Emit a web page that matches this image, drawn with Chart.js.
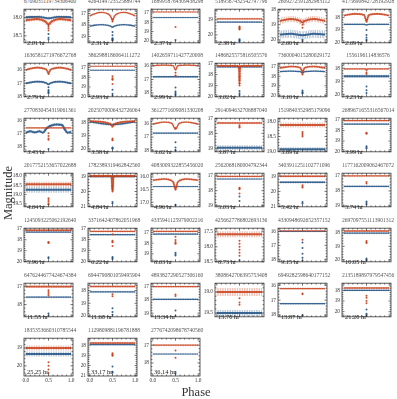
<!DOCTYPE html>
<html>
<head>
<meta charset="utf-8">
<script src="https://cdn.jsdelivr.net/npm/chart.js@4.4.1/dist/chart.umd.min.js"></script>
<style>
body{margin:0;background:#fff;font-family:"Liberation Serif",serif}
#fig{position:relative;width:397px;height:399px;overflow:hidden}
canvas{position:absolute}
.ttl{position:absolute;width:52px;text-align:center;font-size:5.6px;line-height:6px;color:#555;white-space:nowrap;letter-spacing:-0.05px}
.per{position:absolute;font-size:6.4px;line-height:7px;color:#222;white-space:nowrap}
.lab{position:absolute;font-size:12.5px;line-height:14px;color:#333;white-space:nowrap}
</style>
</head>
<body>
<div id="fig"></div>
<script>
// ---- data ----
const gaiaIds=["6709035119734306400","4264149723525889744","1689958764309438298","5189567432542797796","2609272591282983112","4175690842728192928",
"1636581271976672768","3862988186064111272","1402659711427720008","1486825575816505576","7360004015280029172","1556196114836576",
"2770830454319061361","2025070006432726064","3612771609081330208","2914094632706887040","1519840352985179096","2689671655316567014",
"2017752153657022688","1782389319462842560","4083009322855456020","2562068180004792344","3403911251102771096","1177162009062467072",
"1245093225062192640","3371642407862051968","4335941125979002216","4256627786802693136","4330948692652357152","2697097551113901312",
"6476244677424674384","6944790801059495904","4893827290527306160","3808642706395753408","6949282598640177152","2135189897979547456",
"1835353660310785544","1129809881196781888","2776742098678740560"]
const periods=["2.01","2.31","2.37","2.38","2.60","2.69","2.79","2.93","2.99","3.02","3.10","3.23","3.43","3.58","3.62","3.87","3.89","3.99",
"4.64","4.84","4.96","5.03","5.42","5.74","5.96","6.22","8.63","8.73","9.15","10.05","11.55","11.60","13.34","13.70","13.87","21.20",
"25.25","33.17","36.14"]
const magTop=[17.77,16.62,16.6,18.29,17.97,17.35, 15.49,16.54,15.79,16.96,16.62,17.62, 15.84,17.65,15.55,16.98,17.88,16.82,
17.85,18.78,15.85,16.81,18.8,16.82, 16.94,16.95,16.6,17.38,15.76,17.65, 16.81,17.42,16.74,18.79,15.86,17.33, 18.45,17.32,16.61]
const magBottom=[18.69,19.55,20.2,20.53,20.2,20.02, 18.02,20.02,18.29,20.02,20.16,20.2, 18.42,20.23,18.13,19.24,19.02,20.02,
19.67,21.02,17.18,19.1,21.02,19.06, 20.02,20.05,19.75,18.5,18.19,20.15, 18.68,20.07,19.28,19.59,18.12,20.48, 20.57,21.02,18.73]
const magStep=[0.5,1,1,1,1,1, 1,1,1,1,1,1, 1,1,1,1,0.5,1, 0.5,1,0.5,1,1,1, 1,1,1,0.5,1,1, 1,1,1,0.5,1,1, 1,1,1]
const phaseTickLabels=["0.0","0.5","1.0"]

const redCurves=[
[[0,18.07],[0.25,18.04],[0.42,18.1],[0.5,18.18],[0.58,18.1],[0.75,18.04],[1,18.07]],
[[0,17.2],[0.1,17.03],[0.25,16.9],[0.4,17.03],[0.46,17.25],[0.5,17.62],[0.54,17.25],[0.6,17.03],[0.75,16.9],[0.9,17.03],[1,17.2]],
[[0,16.9],[1,16.9]],
[[0,18.93],[1,18.93]],
[[0,18.75],[0.25,18.62],[0.45,18.75],[0.5,18.85],[0.55,18.75],[0.75,18.62],[1,18.75]],
[[0,17.85],[0.25,17.72],[0.45,17.82],[0.5,18.3],[0.55,17.82],[0.75,17.72],[1,17.85]],
[[0,16.0],[0.1,15.9],[0.25,15.82],[0.4,15.9],[0.46,16.0],[0.5,16.25],[0.54,16.0],[0.6,15.9],[0.75,15.82],[0.9,15.9],[1,16.0]],
[[0,16.86],[1,16.86]],
[[0,15.98],[0.25,15.93],[0.45,15.98],[0.5,16.3],[0.55,15.98],[0.75,15.93],[1,15.98]],
[[0,17.2],[0.47,17.2],[0.49,17.5],[0.5,18.9],[0.51,17.5],[0.53,17.2],[1,17.2]],
[[0,17.12],[0.25,16.97],[0.45,17.1],[0.5,17.5],[0.55,17.1],[0.75,16.97],[1,17.12]],
[[0,18.06],[0.48,18.06],[0.5,18.2],[0.52,18.06],[1,18.06]],
[[0,16.59],[1,16.59]],
[[0,17.88],[0.45,18.08],[0.5,18.3],[0.55,18.08],[1,17.88]],
[[0,16.0],[0.25,15.85],[0.42,15.95],[0.5,16.4],[0.58,15.95],[0.75,15.85],[1,16.0]],
[[0,17.3],[1,17.3]],
[[0,18.11],[1,18.11]],
[[0,17.05],[1,17.05]],
[[0,18.45],[1,18.45]],
[[0,18.97],[0.48,18.97],[0.5,19.9],[0.52,18.97],[1,18.97]],
[[0,16.13],[0.25,16.08],[0.45,16.2],[0.5,16.49],[0.55,16.2],[0.75,16.08],[1,16.13]],
[[0,17.03],[1,17.03]],
[[0,19.0],[1,19.0]],
[[0,17.0],[1,17.0]],
[[0,17.13],[1,17.13]],
[[0,17.25],[1,17.25]],
[[0,16.9],[1,16.9]],
[[0,17.58],[1,17.58]],
[[0,15.95],[1,15.95]],
[[0,17.86],[1,17.86]],
[[0,17.0],[1,17.0]],
[[0,17.68],[1,17.68]],
[[0,17.0],[1,17.0]],
[[0,19.0],[1,19.0]],
[[0,16.22],[1,16.22]],
[[0,17.78],[1,17.78]],
[[0,19.0],[1,19.0]],
[[0,17.79],[1,17.79]],
[[0,17.0],[1,17.0]]
]
const blueCurves=[
[[0,17.99],[0.3,17.98],[0.5,18.02],[0.7,17.98],[1,17.99]],
[[0,18.1],[0.1,18.02],[0.25,17.97],[0.4,18.03],[0.47,18.12],[0.5,18.2],[0.53,18.12],[0.6,18.03],[0.75,17.97],[0.9,18.02],[1,18.1]],
[[0,17.5],[1,17.5]],
[[0,19.15],[1,19.15]],
[[0,19.65],[0.25,19.6],[0.5,19.7],[0.75,19.6],[1,19.65]],
[[0,18.55],[0.45,18.55],[0.5,18.6],[0.55,18.55],[1,18.55]],
[[0,17.0],[0.25,16.88],[0.45,16.98],[0.5,17.08],[0.55,16.98],[0.75,16.88],[1,17.0]],
[[0,17.27],[1,17.27]],
[[0,16.8],[1,16.8]],
[[0,17.3],[1,17.3]],
[[0,17.5],[0.25,17.45],[0.45,17.5],[0.5,17.62],[0.55,17.5],[0.75,17.45],[1,17.5]],
[[0,18.63],[1,18.63]],
[[0,16.95],[0.1,16.85],[0.2,16.93],[0.3,16.85],[0.38,16.95],[0.45,16.65],[0.55,16.42],[0.7,16.32],[0.8,16.36],[0.86,16.7],[0.92,16.95],[1,16.9]],
[[0,17.92],[0.45,18.13],[0.55,18.13],[1,17.92]],
[[0,16.7],[1,16.7]],
[[0,18.97],[1,18.97]],
[[0,18.93],[1,18.93]],
[[0,17.38],[1,17.38]],
[[0,18.74],[1,18.74]],
[[0,19.0],[1,19.0]],
[[0,16.38],[1,16.38]],
[[0,17.21],[1,17.21]],
[[0,19.4],[1,19.4]],
[[0,17.7],[1,17.7]],
[[0,17.3],[1,17.3]],
[[0,17.55],[1,17.55]],
[[0,17.15],[1,17.15]],
[],
[[0,16.0],[1,16.0]],
[[0,18.02],[1,18.02]],
[[0,17.59],[1,17.59]],
[[0,18.1],[1,18.1]],
[[0,17.96],[1,17.96]],
[[0,19.5],[1,19.5]],
[[0,17.24],[1,17.24]],
[[0,18.0],[1,18.0]],
[[0,19.33],[1,19.33]],
[[0,17.94],[1,17.94]],
[[0,17.5],[1,17.5]]
]
// magnitudes of the points inside the eclipse, at phase 0.5
const redDips=[[18.25,18.3,18.35],[17.5,17.7],[18.5],[19.45,19.5,19.55,19.6,19.65],[19.0,19.2],[18.2,18.35],
[16.3],[17.9,18.1,18.2,18.25,18.7],[16.5,16.7,16.75],[18.2,18.5,18.8,19.0],[17.7,17.8],[18.35,18.45],
[17.0,17.2,17.4,17.5],[19.2,19.3,19.35],[16.3],[17.45,17.55,17.6],[18.35,18.4,18.45,18.5],[18.2,18.25,18.3],
[19.2,19.3,19.4,19.5,19.55],[19.6,19.7,19.8,19.9,20.0],[16.5],[17.8,17.85,17.9,18.2],[19.6,19.7,19.75],[17.4,17.5],
[18.2,18.25,18.3],[17.5,18.1,18.2,18.25,18.6],[17.4,17.7,17.9,18.0,18.05],[17.8,17.9,18.0,18.1,18.2,18.3],[16.6],[18.6,18.7,18.75],
[17.2,17.3,17.4,17.5],[18.3,18.45],[17.6,17.7],[19.15,19.25,19.3],[16.55,16.6],[18.5,18.7,19.0,19.2],
[19.8,20.0,20.2,20.4],[18.8,18.9,19.0,19.05],[17.3,17.7]]
const blueDips=[[18.2,18.45,18.55,18.6],[18.6,18.9,19.15,19.2,19.25,19.3,19.35],[19.9],[20.3,20.35,20.4,20.45],[20.0,20.1],[19.0,19.4,19.6,19.75,19.85],
[17.3,17.5,17.6,17.7,17.75],[19.3,19.7,19.9],[17.6,17.9,18.0,18.1,18.2],[19.5,19.7,19.85],[19.5,19.65,19.72,19.8],[19.4,19.7,19.9],
[18.2],[19.9,19.95,20.0],[17.4,17.8,18.0,18.05],[],[],[19.5,19.6,19.7],
[],[20.7,20.8],[17.1,17.13],[18.4,18.7],[20.7,20.8],[18.7,18.8,18.9],
[19.6,19.7],[19.6,19.7,19.8],[18.9,19.05,19.15],[18.45],[16.8,17.2,17.6,17.9,18.1],[19.9,20.0,20.05],
[18.5,18.6],[19.4,19.7,19.9],[18.8,19.2],[],[18.0,18.05],[19.8,20.2,20.3,20.4],
[],[20.1,20.6,20.7],[18.5,18.6]]

// ---- styles ----
const redSpread=[4,2,1.5,2,6,2.5, 2.5,1.5,2,2.5,2.5,2, 1.8,2.5,2,2.5,5,2, 5,3,2.5,2,2.5,2, 2.5,2,2,6,1.5,2, 2.5,2,2,8,2,2, 5,2.5,2]
const blueSpread=[3,2,1.5,2,8,2, 2.5,1.5,2,2,2,3, 3,2.5,2,5,4,2, 6,2,1.5,1.5,2.5,2, 2,2,2,2,1.5,2, 2,2,2,6,2,2, 5,2,1.5]
const RED=a=>`rgba(200,62,24,${a})`
const BLUE=a=>`rgba(30,80,130,${a})`
const colLeft=[24,88,151,215,278,342]
const rowTop=[5,59,114,169,224,279,334]
const boxW=52, boxH=42, yAxisW=14, xAxisH=8

const fig=document.getElementById('fig')

const frame={id:'frame',afterDatasetsDraw(c){
  const {ctx,chartArea:a}=c
  const x=c.scales.x, y=c.scales.y
  const step=c.options.scales.y.ticks.stepSize
  ctx.save()
  ctx.strokeStyle='#333'
  ctx.lineWidth=0.7
  ctx.beginPath()
  for(let k=0;k<=10;k++){
    const px=x.getPixelForValue(k/10)
    const L=(k%5==0)?2.5:1.4
    ctx.moveTo(px,a.bottom);ctx.lineTo(px,a.bottom-L)
    ctx.moveTo(px,a.top);ctx.lineTo(px,a.top+L)
  }
  const minor=step/5
  for(let m=Math.ceil(y.min/minor-1e-6)*minor;m<=y.max+1e-6;m+=minor){
    const py=y.getPixelForValue(m)
    const major=Math.abs(m/step-Math.round(m/step))<1e-4
    const L=major?2.5:1.4
    ctx.moveTo(a.left,py);ctx.lineTo(a.left+L,py)
    ctx.moveTo(a.right,py);ctx.lineTo(a.right-L,py)
  }
  ctx.stroke()
  ctx.lineWidth=0.8
  ctx.strokeRect(a.left,a.top,a.width,a.height)
  ctx.restore()
}}

// a light curve band: a solid core plus a speckled halo as wide as the scatter
function band(curve,col,s){
  const pts=curve.map(p=>({x:p[0],y:p[1]}))
  return [
    {data:pts,borderColor:col(0.85),borderWidth:Math.min(2,s*0.65),pointRadius:0,cubicInterpolationMode:'monotone',clip:0},
    {data:pts,borderColor:col(0.5),borderWidth:s,borderDash:[0.6,1.1],pointRadius:0,cubicInterpolationMode:'monotone',clip:0}
  ]
}
function dips(mags,col){
  return {data:mags.map(m=>({x:0.5,y:m})),showLine:false,pointRadius:1,pointBorderWidth:0,pointBackgroundColor:col(0.9),clip:0}
}

gaiaIds.forEach((id,i)=>{
  const r=Math.floor(i/6), c=i%6
  const bottomRow=i>=36
  const left=colLeft[c], top=rowTop[r]
  const cv=document.createElement('canvas')
  const W=yAxisW+boxW+1, H=1+boxH+(bottomRow?xAxisH:1)
  cv.width=W;cv.height=H
  cv.style.left=(left-yAxisW)+'px';cv.style.top=(top-1)+'px'
  cv.style.width=W+'px';cv.style.height=H+'px'
  fig.appendChild(cv)

  const ttl=document.createElement('div')
  ttl.className='ttl';ttl.textContent=id
  ttl.style.left=left+'px';ttl.style.top=(top-7.5)+'px'
  fig.appendChild(ttl)
  const per=document.createElement('div')
  per.className='per';per.textContent=periods[i]+' hr'
  per.style.left=(left+3)+'px';per.style.top=(top+boxH-8)+'px'
  fig.appendChild(per)

  const step=magStep[i]
  const datasets=[
    ...band(redCurves[i],RED,redSpread[i]),
    dips(redDips[i],RED),
    ...band(blueCurves[i],BLUE,blueSpread[i]),
    dips(blueDips[i],BLUE)
  ]
  new Chart(cv,{
    type:'line',
    data:{datasets},
    options:{
      responsive:false,animation:false,events:[],
      layout:{padding:{left:0,top:1,right:1,bottom:bottomRow?0:1}},
      plugins:{legend:{display:false},tooltip:{enabled:false}},
      scales:{
        x:{type:'linear',min:-0.04,max:1.04,
          grid:{display:false,drawTicks:false},border:{display:false},
          ticks:{display:bottomRow,stepSize:0.5,includeBounds:false,autoSkip:false,padding:1.5,
            color:'#333',font:{family:'Liberation Serif',size:5.3},
            callback:v=>phaseTickLabels[Math.round(v*2)]},
          afterFit:s=>{s.height=bottomRow?xAxisH:0}},
        y:{type:'linear',reverse:true,min:magTop[i],max:magBottom[i],
          grid:{display:false,drawTicks:false},border:{display:false},
          ticks:{stepSize:step,includeBounds:false,autoSkip:false,padding:2,
            color:'#333',font:{family:'Liberation Serif',size:5.3},
            callback:v=>step<1?v.toFixed(1):String(Math.round(v))},
          afterFit:s=>{s.width=yAxisW}}
      }
    },
    plugins:[frame]
  })
})

const ylab=document.createElement('div')
ylab.className='lab';ylab.textContent='Magnitude'
ylab.style.left='8px';ylab.style.top='193px';ylab.style.transform='translate(-50%,-50%) rotate(-90deg)'
fig.appendChild(ylab)
const xlab=document.createElement('div')
xlab.className='lab';xlab.textContent='Phase'
xlab.style.left='196px';xlab.style.top='392px';xlab.style.transform='translate(-50%,-50%)'
fig.appendChild(xlab)
</script>
</body>
</html>
